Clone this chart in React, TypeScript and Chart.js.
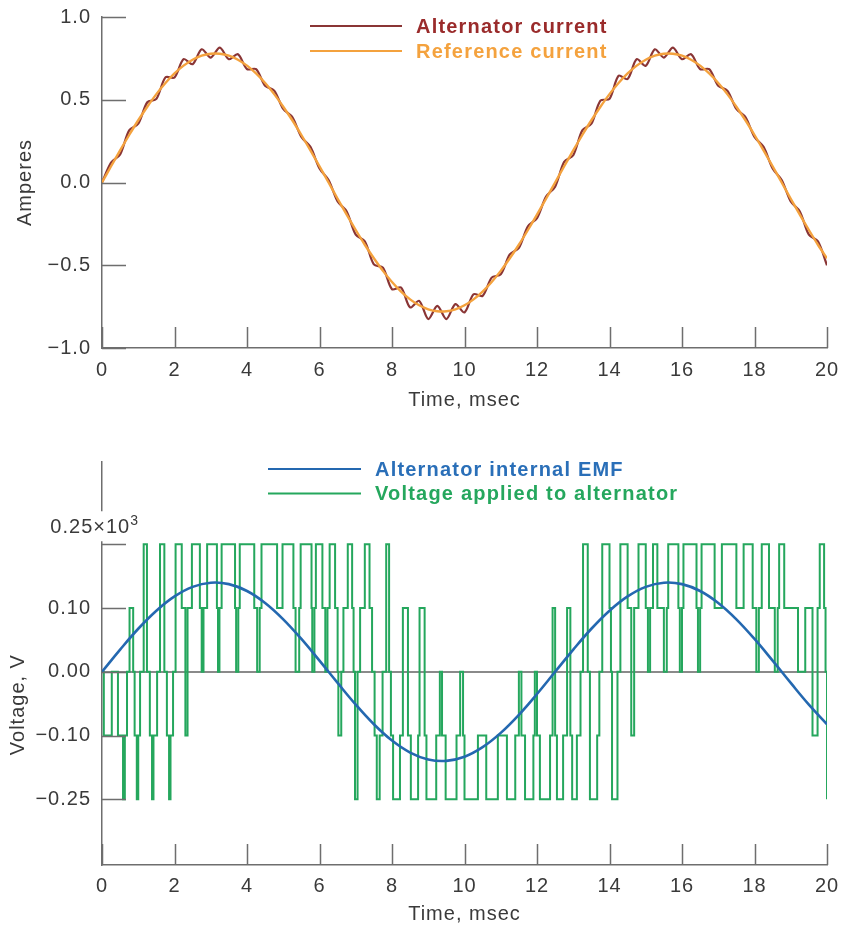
import React, { useEffect, useRef } from "react";
import { Chart, registerables } from "chart.js";

Chart.register(...registerables);

const FONT = "'Liberation Sans', Arial, Helvetica, sans-serif";
const AXIS_COLOR = "#6e6e6e";
const TEXT_COLOR = "#3a3a3a";

// ---------------- Top panel: currents ----------------
const currentTimes = [
  0, 0.25, 0.5, 0.75, 1, 1.25, 1.5, 1.75, 2, 2.25, 2.5, 2.75, 3, 3.25, 3.5, 3.75, 4, 4.25, 4.5, 4.75,
  5, 5.25, 5.5, 5.75, 6, 6.25, 6.5, 6.75, 7, 7.25, 7.5, 7.75, 8, 8.25, 8.5, 8.75, 9, 9.25, 9.5, 9.75,
  10, 10.25, 10.5, 10.75, 11, 11.25, 11.5, 11.75, 12, 12.25, 12.5, 12.75, 13, 13.25, 13.5, 13.75, 14, 14.25, 14.5, 14.75,
  15, 15.25, 15.5, 15.75, 16, 16.25, 16.5, 16.75, 17, 17.25, 17.5, 17.75, 18, 18.25, 18.5, 18.75, 19, 19.25, 19.5, 19.75, 20,
];
const alternatorCurrent = [
  0.0, 0.12, 0.17, 0.315, 0.355, 0.485, 0.505, 0.635, 0.635, 0.745, 0.715, 0.805, 0.755, 0.815, 0.745, 0.775, 0.685, 0.685, 0.585, 0.555,
  0.445, 0.395, 0.275, 0.215, 0.085, 0.015, -0.115, -0.175, -0.315, -0.355, -0.495, -0.515, -0.645, -0.635, -0.755, -0.715, -0.825, -0.745, -0.825, -0.735,
  -0.785, -0.675, -0.685, -0.575, -0.555, -0.435, -0.395, -0.265, -0.215, -0.085, -0.025, 0.125, 0.165, 0.315, 0.355, 0.495, 0.505, 0.645, 0.625, 0.745,
  0.705, 0.805, 0.755, 0.815, 0.745, 0.775, 0.685, 0.685, 0.585, 0.555, 0.445, 0.395, 0.275, 0.215, 0.085, 0.015, -0.115, -0.175, -0.315, -0.355, -0.5,
];
const referenceCurrent = [
  0, 0.098, 0.194, 0.287, 0.376, 0.458, 0.534, 0.601, 0.659, 0.706, 0.742, 0.766, 0.778, 0.778, 0.766, 0.742, 0.706, 0.659, 0.601, 0.534,
  0.458, 0.376, 0.287, 0.194, 0.098, 0, -0.098, -0.194, -0.287, -0.376, -0.458, -0.534, -0.601, -0.659, -0.706, -0.742, -0.766, -0.778, -0.778, -0.766,
  -0.742, -0.706, -0.659, -0.601, -0.534, -0.458, -0.376, -0.287, -0.194, -0.098, 0, 0.098, 0.194, 0.287, 0.376, 0.458, 0.534, 0.601, 0.659, 0.706,
  0.742, 0.766, 0.778, 0.778, 0.766, 0.742, 0.706, 0.659, 0.601, 0.534, 0.458, 0.376, 0.287, 0.194, 0.098, 0, -0.098, -0.194, -0.287, -0.376, -0.458,
];
const currentTickValues = [-1, -0.5, 0, 0.5, 1];
const currentTickLabels = ["\u22121.0", "\u22120.5", "0.0", "0.5", "1.0"];

// ---------------- Shared time axis ----------------
const timeTickValues = [0, 2, 4, 6, 8, 10, 12, 14, 16, 18, 20];
const timeTickLabels = ["0", "2", "4", "6", "8", "10", "12", "14", "16", "18", "20"];

// ---------------- Bottom panel: voltages (in level steps) ----------------
const emfTimes = [
  0, 0.5, 1, 1.5, 2, 2.5, 3, 3.5, 4, 4.5, 5, 5.5, 6, 6.5, 7, 7.5, 8, 8.5, 9, 9.5,
  10, 10.5, 11, 11.5, 12, 12.5, 13, 13.5, 14, 14.5, 15, 15.5, 16, 16.5, 17, 17.5, 18, 18.5, 19, 19.5, 20,
];
const emfLevels = [
  0, 0.348, 0.675, 0.958, 1.182, 1.332, 1.397, 1.375, 1.267, 1.079, 0.823, 0.515, 0.175, -0.175, -0.515, -0.823, -1.079, -1.267, -1.375, -1.397,
  -1.332, -1.182, -0.958, -0.675, -0.348, 0, 0.348, 0.675, 0.958, 1.182, 1.332, 1.397, 1.375, 1.267, 1.079, 0.823, 0.515, 0.175, -0.175, -0.515, -0.823,
];
const appliedTimes = [
  0.0, 0.05, 0.27, 0.44, 0.58, 0.63, 0.69, 0.76, 0.86, 0.9, 0.96, 1.0, 1.05, 1.15, 1.24, 1.32, 1.38, 1.42, 1.52, 1.6,
  1.72, 1.79, 1.85, 1.89, 1.96, 2.03, 2.2, 2.3, 2.36, 2.48,
  2.7, 2.75, 2.8, 2.9, 3.17, 3.2, 3.24, 3.3, 3.67, 3.7, 3.76, 3.8, 4.2, 4.28, 4.35, 4.4, 4.83, 4.98, 5.28, 5.34,
  5.44, 5.48, 5.78, 5.8, 5.86, 5.9, 6.08, 6.16, 6.22, 6.28, 6.43, 6.5, 6.52, 6.6, 6.66, 6.78, 6.9, 6.94, 6.98, 7.05,
  7.12, 7.25, 7.38, 7.45, 7.52, 7.58, 7.66, 7.74, 7.84, 7.92, 7.97,
  8.03, 8.22, 8.3, 8.44, 8.52, 8.72, 8.76, 8.9, 8.95, 9.22, 9.32, 9.38, 9.48, 9.78, 9.88, 9.96, 10.0, 10.37, 10.6, 10.92,
  11.17, 11.4, 11.5, 11.57, 11.67, 11.9, 11.94, 12.0, 12.08, 12.36, 12.43, 12.5, 12.55, 12.72, 12.83, 12.92, 12.97, 13.1, 13.2, 13.27,
  13.4, 13.46, 13.66, 13.72,
  13.8, 14.0, 14.04, 14.07, 14.22, 14.3, 14.5, 14.6, 14.68, 14.8, 15.0, 15.06, 15.12, 15.2, 15.32, 15.5, 15.58, 15.62, 15.9, 15.94,
  16.0, 16.04, 16.4, 16.44, 16.5, 16.54, 16.9, 17.1, 17.5, 17.7, 17.95, 18.05, 18.12, 18.2, 18.4, 18.56, 18.64, 18.68, 18.82, 19.2,
  19.4, 19.6, 19.74, 19.8, 19.92, 19.96, 20.0,
];
const appliedLevels = [
  0, -1, 0, -1, -2, -1, 0, 1, 0, -1, -2, -1, 0, 2, 0, -1, -2, -1, 0, 2,
  0, -1, -2, -1, 0, 2, 1, -1, 1, 2,
  1, 0, 1, 2, 1, 0, 1, 2, 1, 0, 1, 2, 1, 0, 1, 2, 1, 2, 1, 0,
  1, 2, 1, 0, 1, 2, 1, 0, 1, 2, 1, 0, -1, 0, 1, 2, 1, 0, -2, 0,
  1, 2, 1, 0, -1, -2, -1, 0, 2, 0, -1,
  -2, -1, 1, -1, -2, -1, 1, -1, -2, -1, 0, -1, -2, -1, 0, -1, -2, -1, -2, -1,
  -2, -1, 0, -1, -2, -1, 0, -1, -2, -1, 1, -1, -2, -1, 1, -1, -2, -1, 0, 2,
  0, -2, -1, 0,
  2, 1, 0, -2, 0, 2, 1, -1, 1, 2, 1, 0, 1, 2, 1, 0, 1, 2, 1, 0,
  1, 2, 1, 0, 1, 2, 1, 2, 1, 2, 1, 0, 1, 2, 1, 0, 1, 2, 1, 0,
  1, -1, 1, 2, 1, 0, -2,
];
const voltageTickValues = [-2, -1, 0, 1, 2];
const voltageTickLabels = ["\u22120.25", "\u22120.10", "0.00", "0.10", "0.25\u00d710\u00b3"];

const pairs = (xs: number[], ys: number[]) => xs.map((x, i) => ({ x, y: ys[i] }));

const zeroScalePadding = (s: any) => {
  s.paddingTop = 0;
  s.paddingBottom = 0;
  s.paddingLeft = 0;
  s.paddingRight = 0;
};

const panelDecor = {
  id: "panelDecor",
  beforeDraw(chart: any) {
    (chart.ctx as any).letterSpacing = "1px";
  },
  afterDraw(chart: any, _args: any, opts: any) {
    const ctx = chart.ctx as CanvasRenderingContext2D;
    const { left, bottom, top } = chart.chartArea;
    const xs = chart.scales.x;
    const ys = chart.scales.y;
    ctx.save();
    ctx.strokeStyle = AXIS_COLOR;
    ctx.lineWidth = 1.5;
    ctx.beginPath();
    ys.ticks.forEach((t: any) => {
      const p = Math.round(ys.getPixelForValue(t.value)) + 0.5;
      ctx.moveTo(left, p);
      ctx.lineTo(left + opts.yTickLen, p);
    });
    xs.ticks.forEach((t: any) => {
      const p = Math.round(xs.getPixelForValue(t.value)) + 0.5;
      ctx.moveTo(p, bottom);
      ctx.lineTo(p, bottom - opts.xTickLen);
    });
    ctx.stroke();

    const topTick = ys.ticks[ys.ticks.length - 1];
    const topPix = ys.getPixelForValue(topTick.value);

    // raised top label with superscript
    if (opts.raisedTopLabel) {
      const label: string = opts.tickLabels[opts.tickValues.indexOf(topTick.value)];
      const base = label.replace("\u00b3", "");
      (ctx as any).letterSpacing = "1px";
      ctx.font = `20px ${FONT}`;
      const wBase = ctx.measureText(base).width;
      ctx.font = `14px ${FONT}`;
      const wSup = ctx.measureText("3").width;
      const cy = topPix - 17;
      const x0 = opts.raisedLabelRight - wBase - wSup;
      ctx.fillStyle = "#ffffff";
      ctx.fillRect(x0 - 2, topPix - 33, wBase + wSup + 4, 30);
      ctx.fillStyle = TEXT_COLOR;
      ctx.textAlign = "left";
      ctx.textBaseline = "middle";
      ctx.font = `20px ${FONT}`;
      ctx.fillText(base, x0, cy);
      ctx.font = `14px ${FONT}`;
      ctx.fillText("3", x0 + wBase, cy - 6);
    }

    // y title
    ctx.save();
    (ctx as any).letterSpacing = "1px";
    ctx.font = `20px ${FONT}`;
    ctx.fillStyle = TEXT_COLOR;
    ctx.textAlign = "center";
    ctx.textBaseline = "middle";
    ctx.translate(opts.yTitleX, (topPix + bottom) / 2);
    ctx.rotate(-Math.PI / 2);
    ctx.fillText(opts.yTitle, 0, 0);
    ctx.restore();

    // legend
    chart.data.datasets.forEach((ds: any, i: number) => {
      const y = top + opts.legendTop + i * opts.legendGap;
      ctx.strokeStyle = ds.borderColor;
      ctx.lineWidth = 2.2;
      ctx.beginPath();
      ctx.moveTo(opts.legendX, y);
      ctx.lineTo(opts.legendX + opts.legendLen, y);
      ctx.stroke();
      (ctx as any).letterSpacing = "1.2px";
      ctx.font = `bold 20px ${FONT}`;
      ctx.fillStyle = ds.legendColor || ds.borderColor;
      ctx.textAlign = "left";
      ctx.textBaseline = "middle";
      ctx.fillText(ds.label, opts.legendX + opts.legendLen + 14, y + 1);
    });
    ctx.restore();
  },
};

function makeOptions(cfg: any) {
  const tickFont = { family: FONT, size: 20 };
  return {
    responsive: false,
    animation: false,
    events: [],
    layout: { padding: { left: 0, right: 15, top: cfg.padTop, bottom: 0 } },
    plugins: {
      legend: { display: false },
      tooltip: { enabled: false },
      panelDecor: cfg.decor,
    },
    scales: {
      x: {
        type: "linear",
        min: 0,
        max: 20,
        afterFit: (s: any) => {
          s.height = cfg.xHeight;
          zeroScalePadding(s);
        },
        afterBuildTicks: (s: any) => {
          s.ticks = timeTickValues.map((v) => ({ value: v }));
        },
        grid: { display: false, drawTicks: false },
        border: { display: true, color: AXIS_COLOR, width: 1.5 },
        ticks: {
          font: tickFont,
          color: TEXT_COLOR,
          padding: cfg.xTickPad,
          maxRotation: 0,
          autoSkip: false,
          callback: (v: number) => timeTickLabels[timeTickValues.indexOf(v)],
        },
        title: {
          display: true,
          text: "Time, msec",
          font: { family: FONT, size: 20 },
          color: TEXT_COLOR,
          padding: { top: 0, bottom: cfg.xTitlePad },
        },
      },
      y: {
        type: "linear",
        min: cfg.yMin,
        max: cfg.yMax,
        afterFit: (s: any) => {
          s.width = 102;
          zeroScalePadding(s);
        },
        afterBuildTicks: (s: any) => {
          s.ticks = cfg.tickValues.map((v: number) => ({ value: v }));
        },
        grid: cfg.zeroLine
          ? {
              display: true,
              drawTicks: false,
              lineWidth: 2,
              color: (c: any) => (c.tick && c.tick.value === 0 ? "#8a8a8a" : "rgba(0,0,0,0)"),
            }
          : { display: false, drawTicks: false },
        border: { display: true, color: AXIS_COLOR, width: 1.5 },
        ticks: {
          font: tickFont,
          color: TEXT_COLOR,
          padding: 11,
          autoSkip: false,
          callback: (v: number) => {
            const i = cfg.tickValues.indexOf(v);
            if (cfg.decor.raisedTopLabel && i === cfg.tickValues.length - 1) return "";
            return cfg.tickLabels[i];
          },
        },
      },
    },
  };
}

function TopPanel() {
  const ref = useRef<HTMLCanvasElement>(null);
  useEffect(() => {
    const chart = new Chart(ref.current as HTMLCanvasElement, {
      type: "line",
      data: {
        datasets: [
          {
            label: "Alternator current",
            data: pairs(currentTimes, alternatorCurrent),
            borderColor: "#8a3535",
            legendColor: "#9a2b2b",
            borderWidth: 2.2,
            pointRadius: 0,
            tension: 0.3,
            order: 1,
          } as any,
          {
            label: "Reference current",
            data: pairs(currentTimes, referenceCurrent),
            borderColor: "#f4a23e",
            borderWidth: 2.4,
            pointRadius: 0,
            tension: 0.3,
            order: 0,
          },
        ],
      },
      options: makeOptions({
        padTop: 17,
        xHeight: 82,
        xTickPad: 10,
        xTitlePad: 18,
        yMin: -1,
        yMax: 1,
        tickValues: currentTickValues,
        tickLabels: currentTickLabels,
        zeroLine: false,
        decor: {
          yTickLen: 24,
          xTickLen: 21,
          yTitle: "Amperes",
          yTitleX: 25,
          legendX: 310,
          legendTop: 9,
          legendGap: 25,
          legendLen: 92,
          raisedTopLabel: false,
        },
      }) as any,
      plugins: [panelDecor],
    });
    return () => chart.destroy();
  }, []);
  return <canvas ref={ref} width={842} height={430} style={{ display: "block", width: 842, height: 430 }} />;
}

function BottomPanel() {
  const ref = useRef<HTMLCanvasElement>(null);
  useEffect(() => {
    const chart = new Chart(ref.current as HTMLCanvasElement, {
      type: "line",
      data: {
        datasets: [
          {
            label: "Alternator internal EMF",
            data: pairs(emfTimes, emfLevels),
            borderColor: "#2468b0",
            legendColor: "#2a6fb8",
            borderWidth: 2.6,
            pointRadius: 0,
            tension: 0.4,
            order: 0,
          } as any,
          {
            label: "Voltage applied to alternator",
            data: pairs(appliedTimes, appliedLevels),
            borderColor: "#25a75d",
            borderWidth: 2,
            pointRadius: 0,
            stepped: true,
            order: 1,
          },
        ],
      },
      options: makeOptions({
        padTop: 32,
        xHeight: 64,
        xTickPad: 9,
        xTitlePad: 3,
        yMin: -3.03,
        yMax: 3.29,
        tickValues: voltageTickValues,
        tickLabels: voltageTickLabels,
        zeroLine: true,
        decor: {
          yTickLen: 24,
          xTickLen: 21,
          yTitle: "Voltage, V",
          yTitleX: 18,
          legendX: 268,
          legendTop: 7,
          legendGap: 24.5,
          legendLen: 93,
          raisedTopLabel: true,
          raisedLabelRight: 139,
          tickValues: voltageTickValues,
          tickLabels: voltageTickLabels,
        },
      }) as any,
      plugins: [panelDecor],
    });
    return () => chart.destroy();
  }, []);
  return <canvas ref={ref} width={842} height={499} style={{ display: "block", width: 842, height: 499 }} />;
}

export default function App() {
  return (
    <div style={{ position: "absolute", left: 0, top: 0, width: 842, height: 929, background: "#ffffff" }}>
      <TopPanel />
      <BottomPanel />
    </div>
  );
}
